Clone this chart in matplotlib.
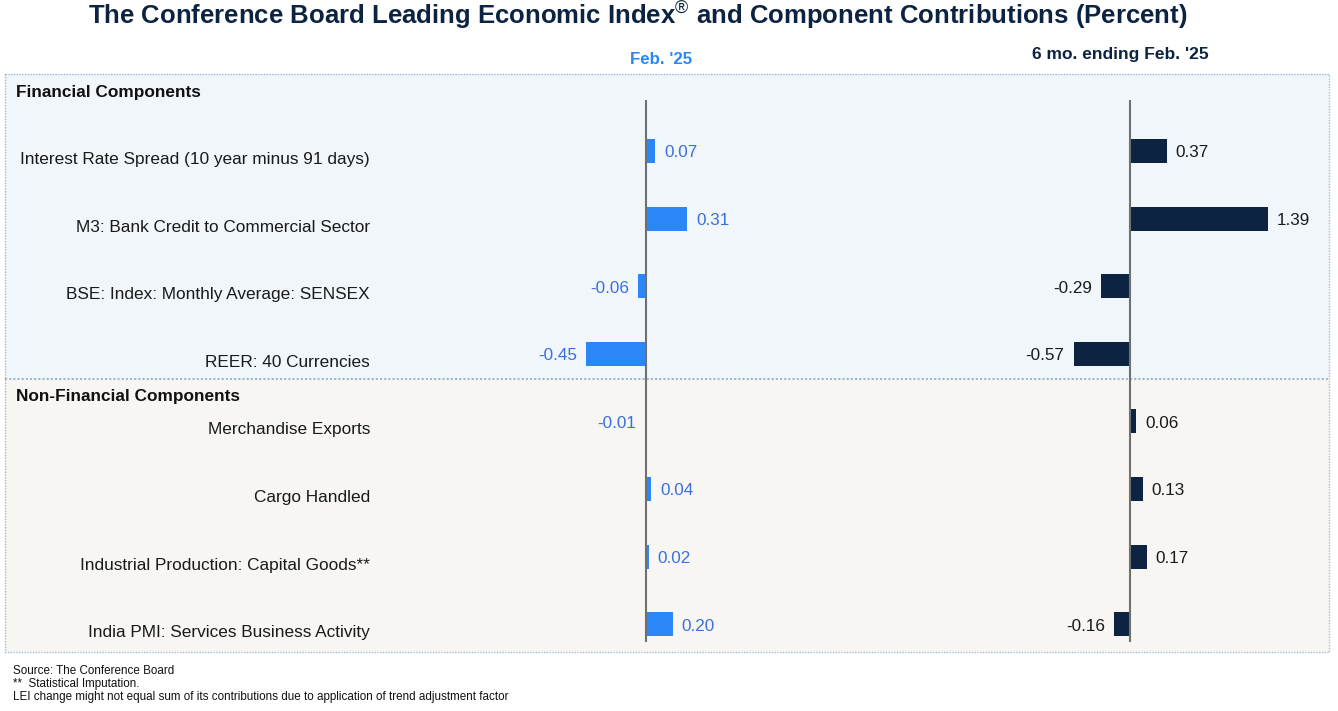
import matplotlib
matplotlib.use('Agg')
import matplotlib.pyplot as plt
from matplotlib.patches import Rectangle
from matplotlib.transforms import blended_transform_factory
import numpy as np

plt.rcParams['font.family'] = ['Liberation Sans', 'DejaVu Sans']
plt.rcParams['mathtext.fontset'] = 'custom'
plt.rcParams['mathtext.rm'] = 'Liberation Sans'

# data
components = ['Interest Rate Spread (10 year minus 91 days)',
              'M3: Bank Credit to Commercial Sector',
              'BSE: Index: Monthly Average: SENSEX',
              'REER: 40 Currencies',
              'Merchandise Exports',
              'Cargo Handled',
              'Industrial Production: Capital Goods**',
              'India PMI: Services Business Activity']
feb25 = [0.07, 0.31, -0.06, -0.45, -0.01, 0.04, 0.02, 0.20]
six_mo = [0.37, 1.39, -0.29, -0.57, 0.06, 0.13, 0.17, -0.16]
sections = ['Financial Components', 'Non-Financial Components']

W, H = 1338, 711
NAVY = '#0c2442'
BLUE = '#2b87f7'
BLUE_TXT = '#3a6fe0'

fig = plt.figure(figsize=(W / 100, H / 100), dpi=100)

# background axes in pixel coordinates
bg = fig.add_axes([0, 0, 1, 1])
bg.set_xlim(0, W)
bg.set_ylim(H, 0)
bg.axis('off')
bg.add_patch(Rectangle((5, 74), 1324, 305, facecolor='#f0f6fa', edgecolor='none'))
bg.add_patch(Rectangle((5, 379), 1324, 273, facecolor='#f7f6f2', edgecolor='none'))
bcol = '#9fb6d3'
bg.plot([5, 1329, 1329, 5, 5], [74, 74, 652, 652, 74], color=bcol, lw=1, ls=(0, (1, 1)))
bg.plot([5, 1329], [379, 379], color=bcol, lw=1.5, ls=(0, (1, 1)))


def px_axes(x0, x1, y0, y1):
    return fig.add_axes([x0 / W, 1 - y1 / H, (x1 - x0) / W, (y1 - y0) / H])


y = np.arange(len(components))
row0, step = 151, 67.6
ytop, ybot = 100, 642

axL = px_axes(380, 900, ytop, ybot)
axR = px_axes(900, 1320, ytop, ybot)

for ax, vals, zero_px, scale, col, tcol in [
        (axL, feb25, 646, 133, BLUE, BLUE_TXT),
        (axR, six_mo, 1130, 99, NAVY, '#1a1a1a')]:
    x0, x1 = ax.get_position().x0 * W, ax.get_position().x1 * W
    ax.set_xlim((x0 - zero_px) / scale, (x1 - zero_px) / scale)
    ax.set_ylim((ybot - row0) / step, (ytop - row0) / step)
    ax.barh(y, vals, height=24 / step, color=col, zorder=2)
    ax.axvline(0, color='#707070', lw=1.5, zorder=3)
    for yi, v in zip(y, vals):
        off = 9 if v >= 0 else -9
        ax.annotate('%.2f' % v, (v, yi), xytext=(off, -2), textcoords='offset pixels',
                    ha='left' if v >= 0 else 'right', va='center',
                    fontsize=12.3, color=tcol)
    ax.axis('off')

# category labels
tr = blended_transform_factory(bg.transData, axL.transData)
for yi, name in zip(y, components):
    bg.text(370, yi + 8.5 / step, name, transform=tr, ha='right', va='center',
            fontsize=12.4, color='#1a1a1a')

bg.text(16, 92, sections[0], fontsize=12.4, fontweight='bold', va='center', color='#111111')
bg.text(16, 397, sections[1], fontsize=12.4, fontweight='bold', va='center', color='#111111')

# headers
bg.text(661, 59, "Feb. '25", fontsize=12.2, fontweight='bold', color=BLUE, ha='center', va='center')
bg.text(1120, 55, "6 mo. ending Feb. '25", fontsize=12.5, fontweight='bold', color=NAVY,
        ha='center', va='center')

bg.text(638, 15, r"The Conference Board Leading Economic Index$^{\mathrm{®}}$ and Component Contributions (Percent)",
        fontsize=18.5, fontweight='bold', color=NAVY, ha='center', va='center')

footer = ['Source: The Conference Board',
          '**  Statistical Imputation.',
          'LEI change might not equal sum of its contributions due to application of trend adjustment factor']
for i, line in enumerate(footer):
    bg.text(13, 671 + 13 * i, line, fontsize=8.4, color='#111111', va='center')

plt.savefig('out.png', dpi=100)
